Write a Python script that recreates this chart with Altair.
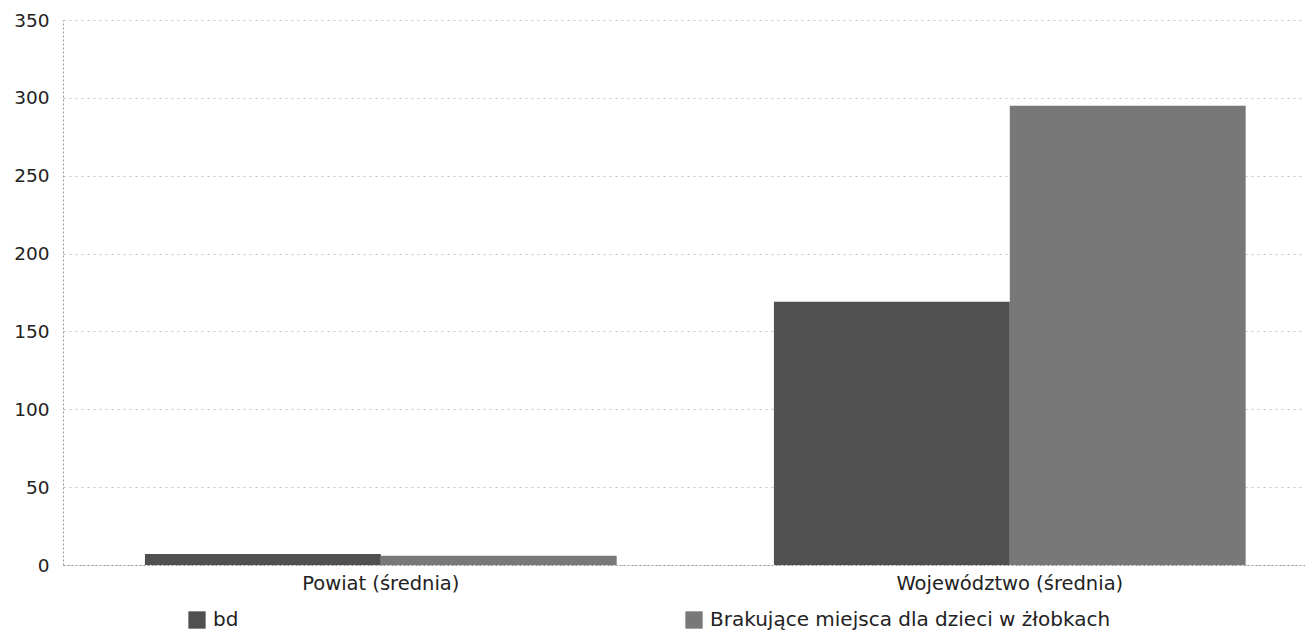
import altair as alt
import pandas as pd

categories = ["Powiat (średnia)", "Województwo (średnia)"]
series = ["bd", "Brakujące miejsca dla dzieci w żłobkach"]
values_bd = [7, 169]
values_brak = [6, 295]

rows = []
for i, c in enumerate(categories):
    rows.append({"kategoria": c, "seria": series[0], "wartosc": values_bd[i]})
    rows.append({"kategoria": c, "seria": series[1], "wartosc": values_brak[i]})
df = pd.DataFrame(rows)

font = "DejaVu Sans"

chart = alt.Chart(df).mark_bar().encode(
    x=alt.X("kategoria:N", sort=categories, title=None,
            scale=alt.Scale(paddingInner=0.25, paddingOuter=0.1123, align=0.58),
            axis=alt.Axis(labelAngle=0, labelFontSize=19.5, labelColor="#222",
                          labelFont=font, ticks=False, domainColor="#999",
                          domainDash=[2, 2], labelPadding=9, labelLimit=500)),
    xOffset=alt.XOffset("seria:N", sort=series),
    y=alt.Y("wartosc:Q", title=None,
            scale=alt.Scale(domain=[0, 350]),
            axis=alt.Axis(values=[0, 50, 100, 150, 200, 250, 300, 350],
                          labelFontSize=18.5, labelColor="#222", labelFont=font,
                          ticks=False, labelPadding=14, domainColor="#999",
                          domainDash=[2, 2], gridColor="#c4c4c4",
                          gridDash=[2, 4])),
    color=alt.Color("seria:N", sort=series,
                    scale=alt.Scale(domain=series, range=["#505050", "#787878"]),
                    legend=alt.Legend(title=None, orient="none", legendX=124,
                                      legendY=590, direction="horizontal",
                                      symbolType="square", symbolSize=300,
                                      symbolStrokeWidth=0, labelFontSize=20,
                                      labelFont=font, labelColor="#222",
                                      labelOffset=6,
                                      columnPadding=445, labelLimit=600)),
).properties(
    width=1242, height=545,
    autosize=alt.AutoSizeParams(type="none"),
    padding={"left": 55, "top": 12, "right": 0, "bottom": 70},
).configure_view(stroke=None)

chart.save("out.html", embed_options={"renderer": "svg", "actions": False})
